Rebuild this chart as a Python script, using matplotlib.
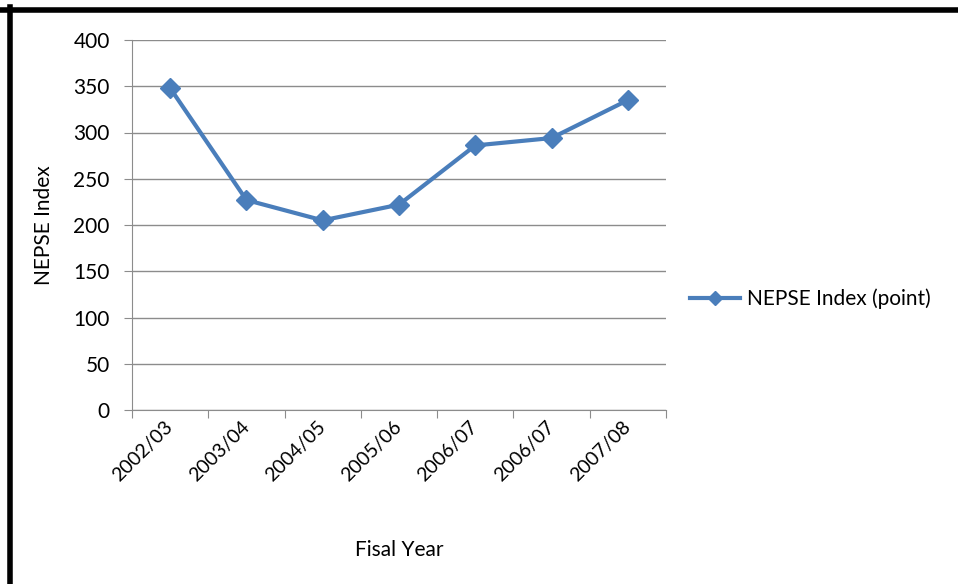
import matplotlib.pyplot as plt
import matplotlib.lines as mlines
import numpy as np

# data
years = ["2002/03", "2003/04", "2004/05", "2005/06", "2006/07", "2006/07", "2007/08"]
nepse_index = [348, 227, 205, 222, 286, 294, 335]

LINE_COLOR = '#4a7ebb'
GRID_COLOR = '#8c8c8c'
FONT = ['Lato', 'DejaVu Sans']
FS = 15

fig = plt.figure(figsize=(9.58, 5.84), dpi=100)
fig.patch.set_facecolor('white')

# black frame on left and top (as in the screenshot)
fig.add_artist(mlines.Line2D([0, 1], [1 - 9.5 / 584] * 2, color='black', lw=4, transform=fig.transFigure))
fig.add_artist(mlines.Line2D([9.5 / 958] * 2, [0, 1 - 7 / 584], color='black', lw=4, transform=fig.transFigure))

ax = fig.add_axes([132 / 958, 1 - 410 / 584, (666 - 132) / 958, (410 - 40) / 584])

x = np.arange(len(years))
ax.plot(x, nepse_index, color=LINE_COLOR, lw=3, marker='D', markersize=10,
        markerfacecolor=LINE_COLOR, markeredgecolor=LINE_COLOR,
        label='NEPSE Index (point)', zorder=3)

ax.set_xlim(-0.5, len(years) - 0.5)
ax.set_ylim(0, 400)
ax.set_yticks(range(0, 401, 50))
ax.yaxis.grid(True, color=GRID_COLOR, lw=1)
ax.set_axisbelow(True)

# category ticks sit between labels, labels at the centers
ax.set_xticks(np.arange(-0.5, len(years)), minor=False)
ax.set_xticklabels([])
ax.set_xticks(x, minor=True)
ax.set_xticklabels(years, minor=True, rotation=45, ha='right', va='center',
                   rotation_mode='anchor', fontsize=14, family=FONT)
ax.tick_params(axis='x', which='minor', length=0, pad=10)
ax.tick_params(axis='x', which='major', length=6, color=GRID_COLOR, direction='out')
ax.tick_params(axis='y', length=6, color=GRID_COLOR, direction='out', labelsize=FS, pad=10)
for lbl in ax.get_yticklabels():
    lbl.set_family(FONT)

for side in ('top', 'right'):
    ax.spines[side].set_visible(False)
for side in ('left', 'bottom'):
    ax.spines[side].set_color(GRID_COLOR)

ax.set_xlabel('Fisal Year', fontsize=FS, family=FONT, labelpad=40)
ax.set_ylabel('NEPSE Index', fontsize=FS, family=FONT, labelpad=14)

leg = ax.legend(loc='center left', bbox_to_anchor=(1.045, 0.30), frameon=False,
                prop={'family': FONT, 'size': FS}, handlelength=2.4, handletextpad=0.35,
                borderpad=0, borderaxespad=0)
leg.legend_handles[0].set_markersize(7)

fig.savefig('out.png', dpi=100, facecolor='white')
